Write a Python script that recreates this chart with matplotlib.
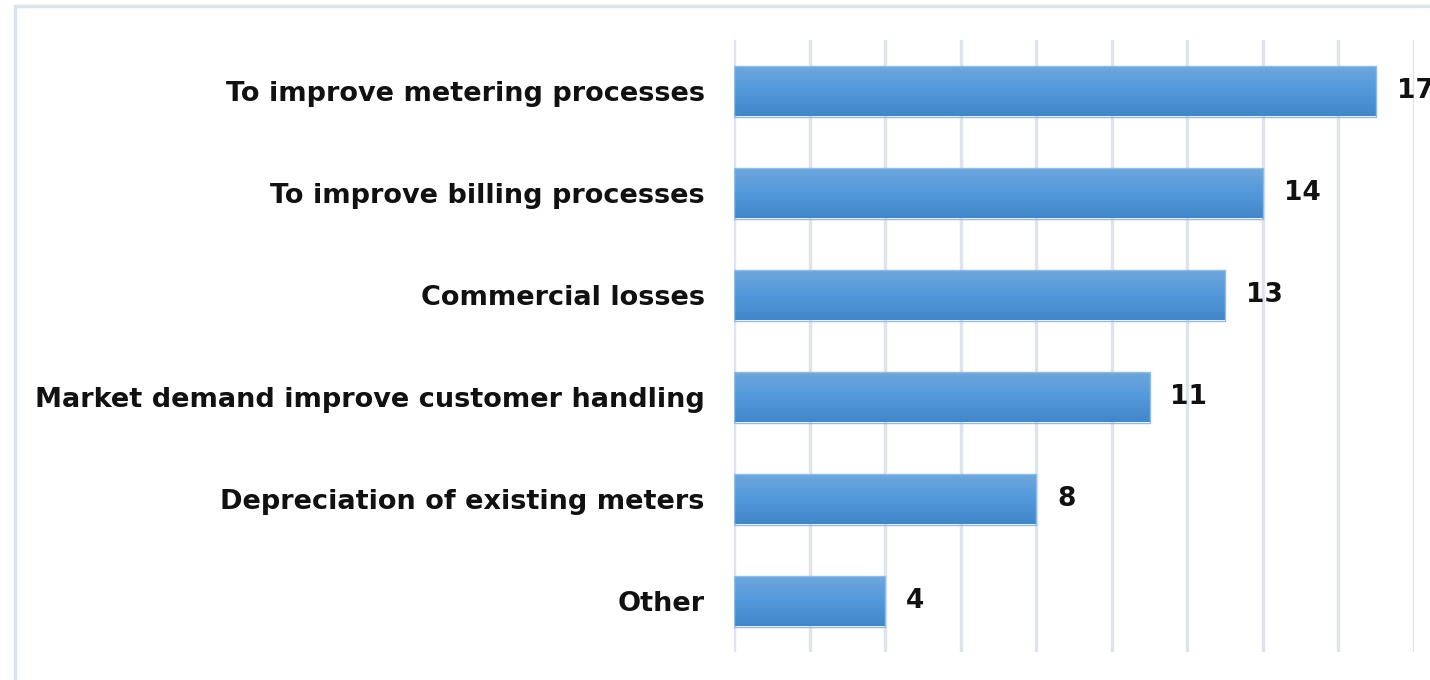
import matplotlib.pyplot as plt
import numpy as np
from matplotlib.patches import Rectangle
from matplotlib.colors import LinearSegmentedColormap

categories = [
    "To improve metering processes",
    "To improve billing processes",
    "Commercial losses",
    "Market demand improve customer handling",
    "Depreciation of existing meters",
    "Other",
]
values = [17, 14, 13, 11, 8, 4]

plt.rcParams['font.family'] = ['DejaVu Sans']

fig = plt.figure(figsize=(14.3, 6.8), dpi=100)
ax = fig.add_axes([734 / 1430, 1 - 652 / 680, (1414 - 734) / 1430, 612 / 680])

y = np.arange(len(categories))
bars = ax.barh(y, values, height=0.5, color="none", zorder=3)

# vertical gradient in each bar (light on top, darker at bottom)
grad = np.linspace(0, 1, 256).reshape(-1, 1)
cmap = LinearSegmentedColormap.from_list("bar", ["#70a7dd", "#5299db", "#4286c8"])
for b in bars:
    x0, y0 = b.get_x(), b.get_y()
    w, h = b.get_width(), b.get_height()
    # y axis is inverted, so y0 is the top edge on screen
    im = ax.imshow(grad, cmap=cmap, aspect="auto", extent=[x0, x0 + w, y0, y0 + h],
                   origin="lower", zorder=3)
    im.set_clip_path(b)
    ax.add_patch(Rectangle((x0, y0), w, h, fill=False, edgecolor="#8fbbe6", lw=1, zorder=4))

for b, v in zip(bars, values):
    ax.text(b.get_width() + 0.55, b.get_y() + b.get_height() / 2, str(v),
            va="center", ha="left", fontsize=19, fontweight="bold", color="#111111",
            clip_on=False)

ax.set_xlim(0, 18)
ax.set_ylim(len(categories) - 0.5, -0.5)
ax.set_yticks(y)
ax.set_yticklabels(categories, fontsize=19.5, fontweight="bold", color="#111111")
ax.set_xticks(np.arange(0, 19, 2))
ax.tick_params(axis="x", length=0, labelbottom=False)
ax.tick_params(axis="y", length=0, pad=21)
ax.grid(axis="x", color="#dfe3eb", linewidth=2.5, zorder=0)
for s in ax.spines.values():
    s.set_visible(False)

# outer frame
fig.patches.append(Rectangle((15 / 1430, -0.1), 1.2, 1 - 6 / 680 + 0.1,
                             transform=fig.transFigure, fill=False,
                             edgecolor="#dde3ec", lw=2.5))

fig.savefig("out.png", dpi=100)
